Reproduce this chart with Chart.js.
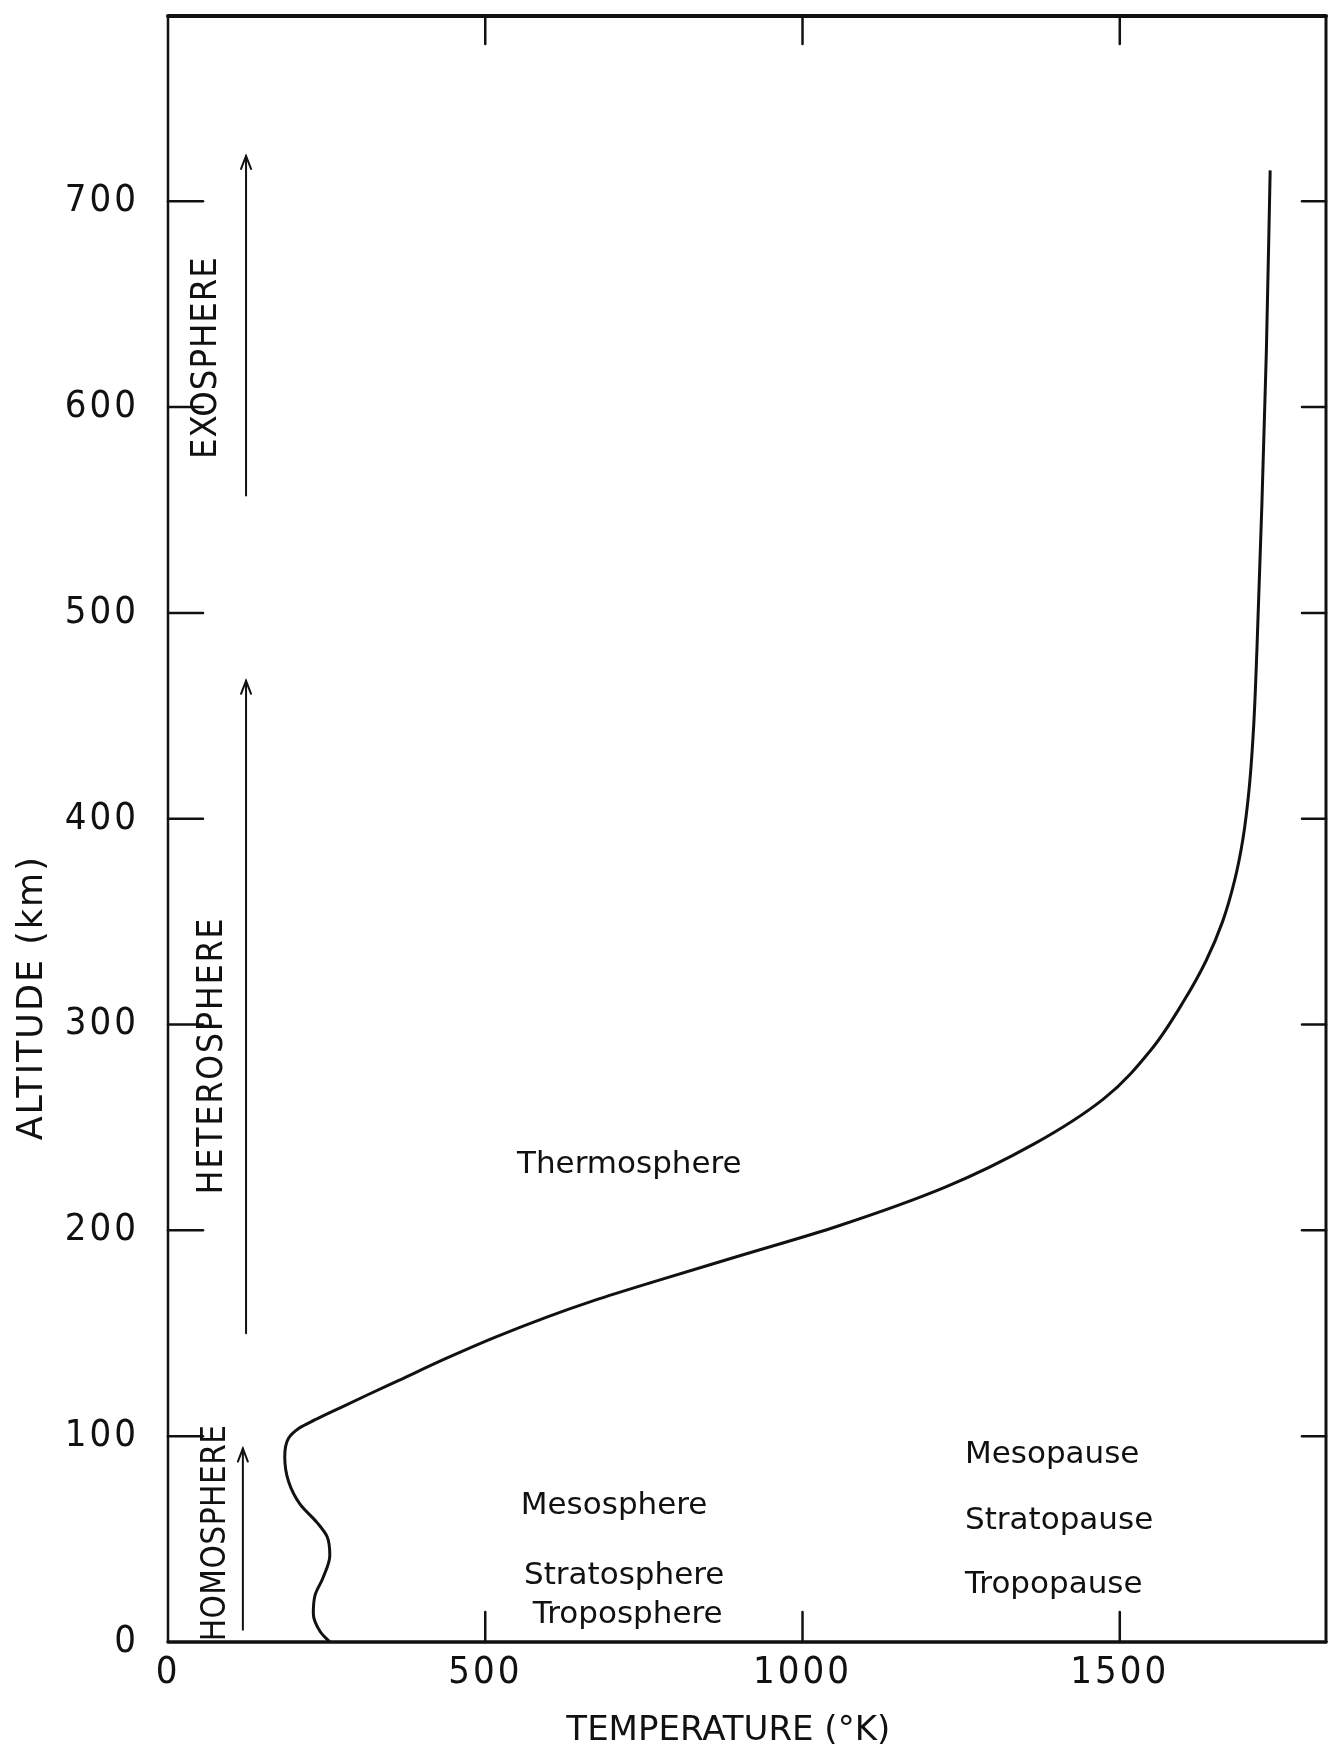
<!DOCTYPE html>
<html>
<head>
<meta charset="utf-8">
<title>Temperature profile of the atmosphere</title>
<script src="https://cdn.jsdelivr.net/npm/chart.js@4.4.1/dist/chart.umd.min.js"></script>
<style>
  html, body { margin: 0; padding: 0; background: #ffffff; }
  #wrap { width: 1340px; height: 1751px; }
</style>
</head>
<body>
<div id="wrap"><canvas id="profile" width="1340" height="1751"></canvas></div>
<script>
// Temperature (K) against altitude (km) through the atmosphere
const temperatureK = [255, 240, 229, 232, 244, 255, 251, 235, 208, 190, 184, 190, 207, 232, 266,
  314, 363, 440, 515, 598, 672, 765, 905, 1055, 1225, 1365, 1475, 1550, 1602, 1636,
  1662, 1681, 1694, 1704, 1711, 1716, 1724, 1731, 1737];
const altitudeKm = [0, 5, 14, 23, 31, 42, 51, 58, 67, 78, 90, 99, 104, 108, 113,
  120, 127, 138, 148, 158, 166, 175, 188, 202, 221, 242, 264, 288, 312, 331,
  350, 370, 390, 415, 445, 481, 553, 627, 715];

const xTickValues = [0, 500, 1000, 1500];
const xTickLabels = ['0', '500', '1000', '1500'];
const yTickValues = [0, 100, 200, 300, 400, 500, 600, 700];
const yTickLabels = ['0', '100', '200', '300', '400', '500', '600', '700'];

const xTitle = 'TEMPERATURE (°K)';
const yTitle = 'ALTITUDE (km)';

const INK = '#111111';
const NARROW = "'DejaVu Sans Condensed', 'Liberation Sans Narrow', 'DejaVu Sans', sans-serif";
const SANS = "'DejaVu Sans', 'Liberation Sans', sans-serif";

// Layer names and region annotations, placed in data units (K, km)
const regionLabels = [
  { text: 'Thermosphere', t: 550, alt: 228 },
  { text: 'Mesosphere',   t: 556, alt: 62 },
  { text: 'Stratosphere', t: 561, alt: 28 },
  { text: 'Troposphere',  t: 575, alt: 9 },
  { text: 'Mesopause',    t: 1256, alt: 87 },
  { text: 'Stratopause',  t: 1256, alt: 55 },
  { text: 'Tropopause',   t: 1256, alt: 24 }
];
const sphereLabels = [
  { text: 'EXOSPHERE',    t: 61, alt: 624, size: 36, spacing: 1 },
  { text: 'HETEROSPHERE', t: 71, alt: 285, size: 35, spacing: 2 },
  { text: 'HOMOSPHERE',   t: 77, alt: 53,  size: 33, spacing: 0.5 }
];
const sphereArrows = [
  { t: 123, from: 557, to: 722 },
  { t: 123, from: 150, to: 467 },
  { t: 118, from: 6,   to: 94 }
];

const framePlugin = {
  id: 'frameAndNotes',
  beforeDraw(chart) {
    chart.ctx.letterSpacing = '3px';
  },
  afterDraw(chart) {
    const { ctx, chartArea: a, scales } = chart;
    const xs = scales.x, ys = scales.y;
    ctx.save();
    ctx.letterSpacing = '0px';
    ctx.strokeStyle = INK;
    ctx.lineCap = 'round';

    // frame
    const side = (x1, y1, x2, y2, w) => {
      ctx.lineWidth = w;
      ctx.beginPath(); ctx.moveTo(x1, y1); ctx.lineTo(x2, y2); ctx.stroke();
    };
    side(a.left, a.top, a.right, a.top, 4);
    side(a.right, a.top, a.right, a.bottom, 3);
    side(a.left, a.bottom, a.right, a.bottom, 3.5);
    side(a.left, a.top, a.left, a.bottom, 2.5);

    // inward tick marks on all four sides
    yTickValues.filter(v => v > 0).forEach(v => {
      const py = ys.getPixelForValue(v);
      side(a.left, py, a.left + 35, py, 2.5);
      side(a.right - 24, py, a.right, py, 2.5);
    });
    xTickValues.filter(v => v > 0).forEach(v => {
      const px = xs.getPixelForValue(v);
      side(px, a.top, px, a.top + 28, 2.5);
      side(px, a.bottom, px, a.bottom - 30, 2.5);
    });

    // region arrows
    sphereArrows.forEach(ar => {
      const px = xs.getPixelForValue(ar.t);
      const y0 = ys.getPixelForValue(ar.from);
      const y1 = ys.getPixelForValue(ar.to);
      side(px, y0, px, y1, 2);
      ctx.lineWidth = 2;
      ctx.beginPath();
      ctx.moveTo(px - 5, y1 + 13);
      ctx.lineTo(px, y1);
      ctx.lineTo(px + 5, y1 + 13);
      ctx.stroke();
    });

    ctx.fillStyle = INK;
    // rotated sphere names
    sphereLabels.forEach(l => {
      ctx.save();
      ctx.translate(xs.getPixelForValue(l.t), ys.getPixelForValue(l.alt));
      ctx.rotate(-Math.PI / 2);
      ctx.font = `${l.size}px ${NARROW}`;
      ctx.letterSpacing = `${l.spacing}px`;
      ctx.textAlign = 'center';
      ctx.textBaseline = 'middle';
      ctx.fillText(l.text, 0, 0);
      ctx.restore();
    });

    // layer names
    ctx.font = `31px ${SANS}`;
    ctx.textAlign = 'left';
    ctx.textBaseline = 'alphabetic';
    regionLabels.forEach(l => {
      ctx.fillText(l.text, xs.getPixelForValue(l.t), ys.getPixelForValue(l.alt));
    });

    // axis titles
    ctx.font = `34px ${SANS}`;
    ctx.textAlign = 'center';
    ctx.textBaseline = 'middle';
    ctx.fillText(xTitle, xs.getPixelForValue(883), 1731);
    ctx.save();
    ctx.translate(33, ys.getPixelForValue(313));
    ctx.rotate(-Math.PI / 2);
    ctx.font = `35px ${SANS}`;
    ctx.letterSpacing = '2px';
    ctx.fillText(yTitle, 0, 0);
    ctx.restore();

    ctx.restore();
  }
};

new Chart(document.getElementById('profile'), {
  type: 'line',
  data: {
    datasets: [{
      data: temperatureK.map((t, i) => ({ x: t, y: altitudeKm[i] })),
      indexAxis: 'y',
      borderColor: INK,
      borderWidth: 3,
      pointRadius: 0,
      cubicInterpolationMode: 'monotone',
      fill: false
    }]
  },
  options: {
    indexAxis: 'y',
    responsive: false,
    animation: false,
    events: [],
    layout: { padding: { left: 0, right: 14, top: 16, bottom: 0 } },
    plugins: { legend: { display: false }, tooltip: { enabled: false } },
    scales: {
      x: {
        type: 'linear', position: 'bottom', min: 0, max: 1825,
        grid: { display: false, drawTicks: false },
        border: { display: false },
        afterBuildTicks: s => { s.ticks = xTickValues.map(v => ({ value: v })); },
        afterFit: s => {
          s.height = 109;
          s.paddingLeft = 0; s.paddingRight = 0; s.paddingTop = 0; s.paddingBottom = 0;
        },
        ticks: {
          color: INK, padding: 8, maxRotation: 0, autoSkip: false,
          font: { family: NARROW, size: 38 },
          callback: v => xTickLabels[xTickValues.indexOf(v)]
        }
      },
      y: {
        type: 'linear', position: 'left', min: 0, max: 790,
        grid: { display: false, drawTicks: false },
        border: { display: false },
        afterBuildTicks: s => { s.ticks = yTickValues.map(v => ({ value: v })); },
        afterFit: s => {
          s.width = 168;
          s.paddingLeft = 0; s.paddingRight = 0; s.paddingTop = 0; s.paddingBottom = 0;
        },
        ticks: {
          color: INK, padding: 29, autoSkip: false,
          font: { family: NARROW, size: 38 },
          callback: v => yTickLabels[yTickValues.indexOf(v)]
        }
      }
    }
  },
  plugins: [framePlugin]
});
</script>
</body>
</html>
